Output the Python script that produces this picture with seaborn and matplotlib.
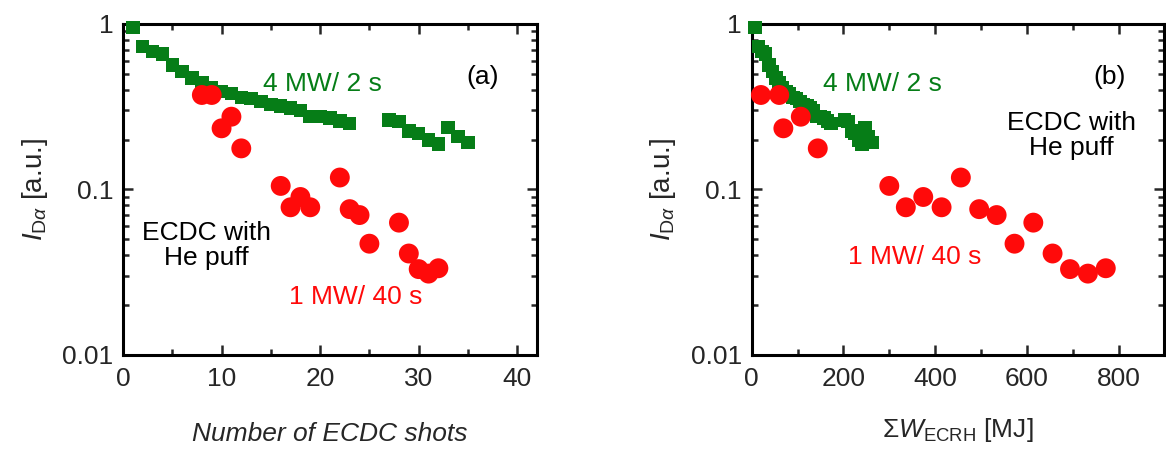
import matplotlib
matplotlib.use("Agg")

import matplotlib.pyplot as plt
import matplotlib.ticker as mticker
import pandas as pd
import seaborn as sns

# ---------------------------------------------------------------------------
# Data
# ---------------------------------------------------------------------------

# 4 MW / 2 s ECDC shots (green squares)
SHORT_SHOTS = [1, 2, 3, 4, 5, 6, 7, 8, 9, 10, 11, 12, 13, 14, 15, 16, 17, 18,
               19, 20, 21, 22, 23, 27, 28, 29, 30, 31, 32, 33, 34, 35]
SHORT_ENERGY = [7.5, 15, 22.5, 30, 37.5, 45, 52.5, 60, 67.5, 75, 82.5, 90,
                97.5, 105, 112.5, 120, 127.5, 135, 142.5, 150, 157.5, 165,
                172.5, 202.5, 210, 217.5, 225, 232.5, 240, 247.5, 255, 262.5]
SHORT_IDA = [0.95, 0.73, 0.68, 0.66, 0.565, 0.515, 0.47, 0.44, 0.41, 0.39,
             0.38, 0.36, 0.355, 0.34, 0.325, 0.32, 0.31, 0.30, 0.275, 0.275,
             0.27, 0.26, 0.25, 0.263, 0.257, 0.226, 0.217, 0.199, 0.188,
             0.237, 0.209, 0.192]

# 1 MW / 40 s ECDC shots (red circles)
LONG_SHOTS = [8, 9, 10, 11, 12, 16, 17, 18, 19, 22, 23, 24, 25, 28, 29, 30,
              31, 32]
LONG_ENERGY = [20, 60, 69, 107, 144, 300, 336, 374, 414, 456, 496, 534, 573,
               614, 656, 694, 733, 772]
LONG_IDA = [0.372, 0.372, 0.234, 0.275, 0.177, 0.105, 0.078, 0.090, 0.078,
            0.118, 0.076, 0.070, 0.047, 0.063, 0.041, 0.033, 0.031, 0.0334]

GREEN = "#067d17"
RED = "#ff0a0a"

short_df = pd.DataFrame({"shot": SHORT_SHOTS, "energy": SHORT_ENERGY, "ida": SHORT_IDA})
long_df = pd.DataFrame({"shot": LONG_SHOTS, "energy": LONG_ENERGY, "ida": LONG_IDA})

# ---------------------------------------------------------------------------
# Style
# ---------------------------------------------------------------------------

sns.set_theme(style="ticks")
plt.rcParams["font.family"] = ["Liberation Sans", "DejaVu Sans"]
plt.rcParams["mathtext.fontset"] = "custom"
plt.rcParams["mathtext.rm"] = "Liberation Sans"
plt.rcParams["mathtext.it"] = "Liberation Sans:italic"
plt.rcParams["mathtext.sf"] = "Liberation Sans"

FS = 19

fig = plt.figure(figsize=(11.66, 4.51), dpi=100)
ax_a = fig.add_axes([0.1055, 0.213, 0.355, 0.734])
ax_b = fig.add_axes([0.6447, 0.213, 0.354, 0.734])


def _style_axis(ax, xmax, xmajor, xminor):
    ax.set_yscale("log")
    ax.set_ylim(0.01, 1)
    ax.set_xlim(0, xmax)
    ax.xaxis.set_major_locator(mticker.MultipleLocator(xmajor))
    ax.xaxis.set_minor_locator(mticker.MultipleLocator(xminor))
    ax.yaxis.set_major_locator(mticker.FixedLocator([0.01, 0.1, 1]))
    ax.yaxis.set_major_formatter(mticker.FuncFormatter(lambda v, _: f"{v:g}"))
    ax.yaxis.set_minor_locator(mticker.LogLocator(base=10, subs=range(2, 10)))
    ax.yaxis.set_minor_formatter(mticker.NullFormatter())
    ax.tick_params(which="both", direction="in", top=True, right=True,
                   labelsize=FS, width=1.8)
    ax.tick_params(axis="x", pad=9)
    ax.tick_params(axis="y", pad=7)
    ax.tick_params(which="major", length=7)
    ax.tick_params(which="minor", length=4)
    for sp in ax.spines.values():
        sp.set_linewidth(2.2)
        sp.set_color("black")
    ax.set_ylabel(r"$I_{\mathrm{D}\alpha}$ [a.u.]", fontsize=FS + 1, labelpad=9)


# (a) vs number of shots
sns.scatterplot(data=short_df, x="shot", y="ida", ax=ax_a, marker="s",
                s=95, color=GREEN, edgecolor="none", zorder=3, clip_on=False)
sns.scatterplot(data=long_df, x="shot", y="ida", ax=ax_a, marker="o",
                s=205, color=RED, edgecolor="none", zorder=4, clip_on=False)
_style_axis(ax_a, 42, 10, 5)
ax_a.set_xlabel("Number of ECDC shots", fontsize=FS, style="italic", labelpad=22)
ax_a.text(14.2, 0.434, "4 MW/ 2 s", color=GREEN, fontsize=FS, va="center")
ax_a.text(34.8, 0.478, "(a)", color="black", fontsize=FS, va="center")
ax_a.text(8.5, 0.0456, "ECDC with\nHe puff", color="black", fontsize=FS,
          ha="center", va="center", linespacing=1.05)
ax_a.text(16.8, 0.0223, "1 MW/ 40 s", color=RED, fontsize=FS, va="center")

# (b) vs cumulative ECRH energy
sns.scatterplot(data=short_df, x="energy", y="ida", ax=ax_b, marker="s",
                s=95, color=GREEN, edgecolor="none", zorder=3, clip_on=False)
sns.scatterplot(data=long_df, x="energy", y="ida", ax=ax_b, marker="o",
                s=205, color=RED, edgecolor="none", zorder=4, clip_on=False)
_style_axis(ax_b, 900, 200, 100)
ax_b.set_xlabel(r"$\Sigma W_{\mathrm{ECRH}}$ [MJ]", fontsize=FS, labelpad=18)
ax_b.text(156, 0.434, "4 MW/ 2 s", color=GREEN, fontsize=FS, va="center")
ax_b.text(744, 0.478, "(b)", color="black", fontsize=FS, va="center")
ax_b.text(697, 0.212, "ECDC with\nHe puff", color="black", fontsize=FS,
          ha="center", va="center", linespacing=1.05)
ax_b.text(210, 0.0393, "1 MW/ 40 s", color=RED, fontsize=FS, va="center")

fig.savefig("out.png", dpi=100)
plt.close("all")
